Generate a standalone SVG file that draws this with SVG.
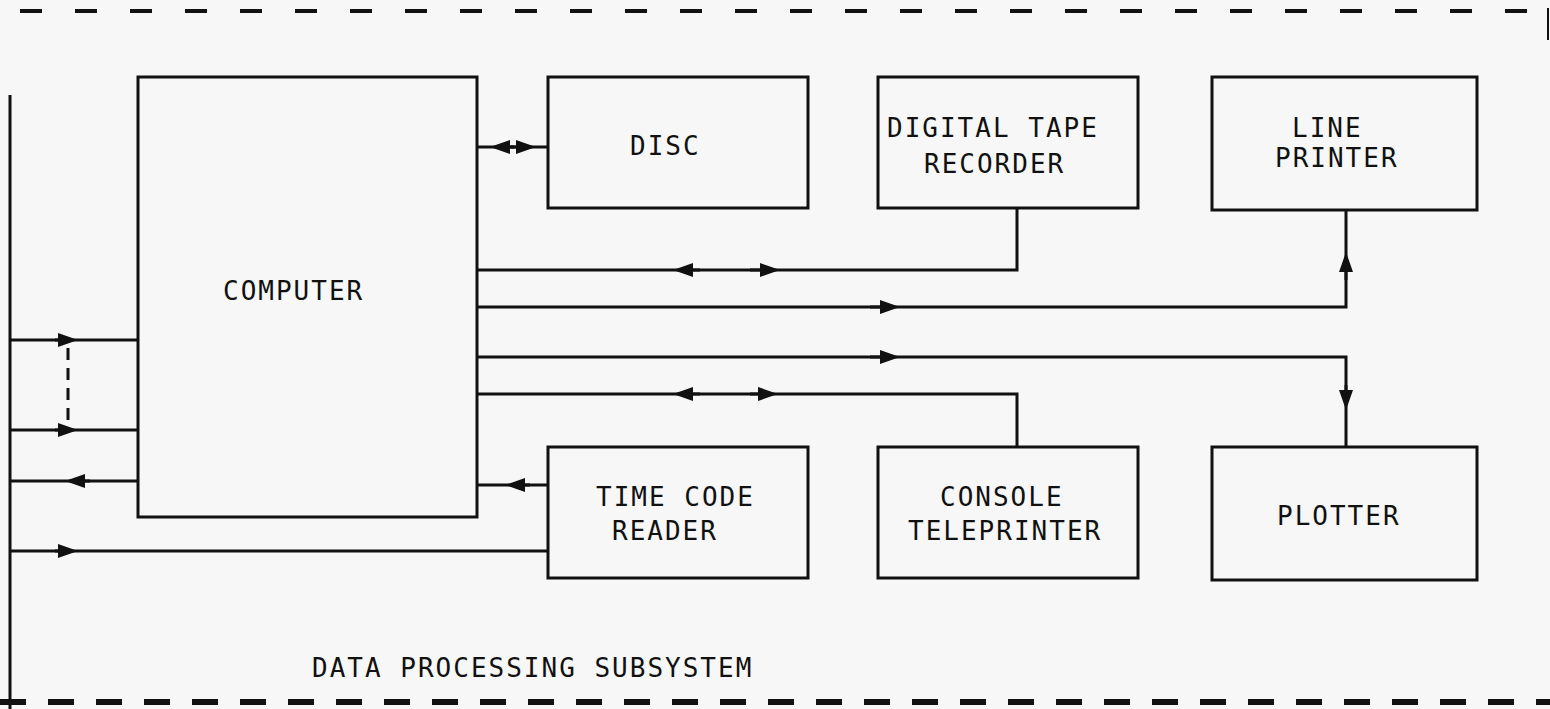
<svg xmlns="http://www.w3.org/2000/svg" width="1550" height="709" viewBox="0 0 1550 709">
<defs>
<marker id="ar" viewBox="0 0 20 14" refX="10" refY="7" markerWidth="20" markerHeight="14" markerUnits="userSpaceOnUse" orient="auto"><path d="M0,0 L20,7 L0,14 z" fill="#111"/></marker>
</defs>
<style>
.box{fill:none;stroke:#111;stroke-width:3}
.ln{fill:none;stroke:#111;stroke-width:3}
.t{font-family:"DejaVu Sans Mono","Liberation Mono",monospace;font-size:26px;letter-spacing:2px;fill:#111}
</style>
<rect width="1550" height="709" fill="#f7f7f7"/>
<g id="frame">
<line x1="20" y1="11" x2="1545" y2="11" stroke="#111" stroke-width="4" stroke-dasharray="22,33"/>
<line x1="1548" y1="8" x2="1548" y2="40" stroke="#111" stroke-width="2"/>
<line x1="10" y1="95" x2="10" y2="709" stroke="#111" stroke-width="3"/>
<line x1="0" y1="702" x2="1550" y2="702" stroke="#111" stroke-width="6" stroke-dasharray="26,22"/>
</g>
<g id="computer"><rect class="box" x="138" y="77" width="339" height="440"/><text class="t" x="223" y="300">COMPUTER</text></g>
<g id="disc"><rect class="box" x="548" y="77" width="260" height="131"/><text class="t" x="630" y="155">DISC</text></g>
<g id="tape"><rect class="box" x="878" y="77" width="260" height="131"/><text class="t" x="887" y="137">DIGITAL TAPE</text><text class="t" x="924" y="173">RECORDER</text></g>
<g id="lineprinter"><rect class="box" x="1212" y="77" width="265" height="133"/><text class="t" x="1292" y="137">LINE</text><text class="t" x="1275" y="167">PRINTER</text></g>
<g id="timecode"><rect class="box" x="548" y="447" width="260" height="131"/><text class="t" x="596" y="506">TIME CODE</text><text class="t" x="612" y="540">READER</text></g>
<g id="console"><rect class="box" x="878" y="447" width="260" height="131"/><text class="t" x="940" y="506">CONSOLE</text><text class="t" x="908" y="540">TELEPRINTER</text></g>
<g id="plotter"><rect class="box" x="1212" y="447" width="265" height="133"/><text class="t" x="1277" y="525">PLOTTER</text></g>
<g id="connectors">
<path class="ln" d="M477,147 L548,147"/>
<path class="ln" d="M514,147 L500,147" marker-end="url(#ar)"/>
<path class="ln" d="M511,147 L526,147" marker-end="url(#ar)"/>
<path class="ln" d="M477,270 L1017,270 L1017,208"/>
<path class="ln" d="M700,270 L683,270" marker-end="url(#ar)"/>
<path class="ln" d="M750,270 L770,270" marker-end="url(#ar)"/>
<path class="ln" d="M477,307 L1346,307 L1346,210"/>
<path class="ln" d="M870,307 L890,307" marker-end="url(#ar)"/>
<path class="ln" d="M1346,280 L1346,262" marker-end="url(#ar)"/>
<path class="ln" d="M477,357 L1346,357 L1346,447"/>
<path class="ln" d="M870,357 L890,357" marker-end="url(#ar)"/>
<path class="ln" d="M1346,385 L1346,400" marker-end="url(#ar)"/>
<path class="ln" d="M477,394 L1017,394 L1017,447"/>
<path class="ln" d="M700,394 L683,394" marker-end="url(#ar)"/>
<path class="ln" d="M750,394 L768,394" marker-end="url(#ar)"/>
<path class="ln" d="M548,485 L477,485"/>
<path class="ln" d="M530,485 L515,485" marker-end="url(#ar)"/>
<path class="ln" d="M10,340 L138,340"/>
<path class="ln" d="M55,340 L68,340" marker-end="url(#ar)"/>
<path class="ln" d="M10,430 L138,430"/>
<path class="ln" d="M55,430 L68,430" marker-end="url(#ar)"/>
<path d="M68,348 L68,422" stroke="#111" stroke-width="3" stroke-dasharray="12,8" fill="none"/>
<path class="ln" d="M90,481 L75,481" marker-end="url(#ar)"/>
<path class="ln" d="M10,481 L138,481"/>
<path class="ln" d="M55,551 L68,551" marker-end="url(#ar)"/>
<path class="ln" d="M10,551 L548,551"/>
</g>
<text class="t" x="312" y="677">DATA PROCESSING SUBSYSTEM</text>
</svg>
